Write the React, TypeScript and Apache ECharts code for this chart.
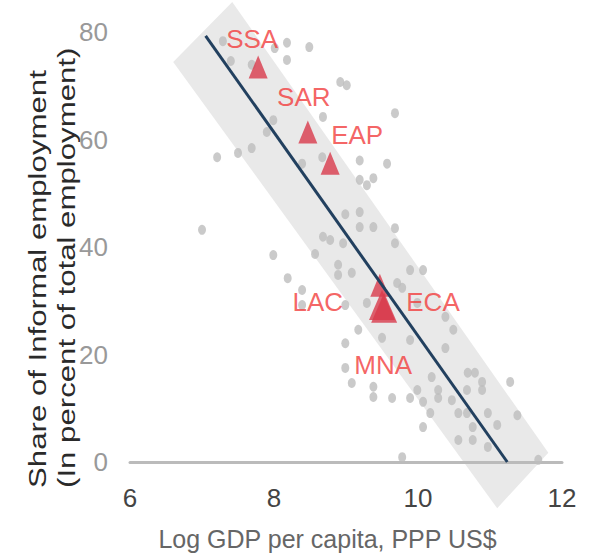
import React, { useEffect, useRef } from "react";
import * as echarts from "echarts";

// Country observations (log GDP per capita, informal employment share)
const dotX = [
  7.29, 8.18, 8.49, 8.01, 8.18, 7.4, 7.69, 8.92, 9.01, 9.68, 8.68, 7.99, 7.9, 7.21, 7.5, 7.69,
  8.67, 9.19, 8.39, 9.57, 9.19, 9.29, 9.38, 8.99, 9.19, 9.19, 9.38, 9.68, 8.68, 8.78, 8.96, 9.68,
  8.57, 7.99, 7.0, 8.19, 8.89, 8.89, 9.08, 9.89, 10.07, 9.71, 9.78, 8.39, 8.39, 8.99, 9.29, 9.99,
  10.38, 9.17, 9.5, 9.89, 10.49, 10.38, 8.99, 8.99, 9.08, 9.38, 9.38, 9.64, 9.89, 9.99, 10.07,
  10.19, 10.28, 10.28, 10.47, 10.68, 10.69, 10.79, 10.89, 10.89, 11.28, 10.17, 10.56, 10.68,
  10.97, 11.38, 11.1, 10.07, 10.76, 10.56, 10.76, 10.97, 9.78, 11.67,
];
const dotY = [
  78.3, 78.0, 77.2, 77.0, 74.8, 74.6, 73.9, 70.7, 70.1, 64.9, 64.2, 63.6, 61.4, 56.7, 57.5, 58.4,
  56.7, 56.1, 55.5, 55.5, 52.5, 51.5, 52.8, 46.1, 46.5, 43.7, 43.7, 43.5, 41.9, 41.3, 40.7, 40.7,
  38.7, 38.5, 43.2, 34.2, 36.7, 34.8, 35.2, 35.7, 35.7, 33.3, 32.4, 32.0, 29.2, 29.2, 29.6, 29.6,
  27.0, 24.6, 23.1, 22.7, 24.6, 21.2, 22.1, 17.5, 14.7, 14.0, 12.1, 11.9, 11.9, 13.4, 11.2,
  15.8, 13.4, 11.9, 11.5, 13.4, 16.6, 16.6, 14.9, 13.4, 14.9, 9.1, 9.1, 9.1,
  9.1, 8.7, 6.9, 6.5, 6.5, 4.1, 4.1, 2.8, 0.9, 0.4,
];

// Regional averages
const regionNames = ["SSA", "SAR", "EAP", "LAC", "ECA", "MNA"];
const regionX = [7.78, 8.47, 8.78, 9.47, 9.5, 9.53];
const regionY = [73.5, 61.4, 55.6, 32.9, 29.2, 28.7];

// Fitted line and its confidence band
const fitX = [7.05, 11.24];
const fitY = [79.3, 0];
const bandX = [6.6, 7.42, 11.81, 11.1];
const bandY = [74.4, 85.6, 1.7, -8.6];

// Axis ranges
const xMin = 6, xMax = 12, xStep = 2;
const yMin = 0, yMax = 80, yStep = 20;

// label placement and marker sizes (styling)
const labelOffsets: Record<string, [number, number]> = {
  SSA: [-6, -28],
  SAR: [-4, -35],
  EAP: [27, -28],
  LAC: [-62, 17],
  ECA: [51, -3],
  MNA: [-1, 57],
};
const markerSizes: Record<string, [number, number]> = {
  SSA: [19, 23],
  SAR: [19, 23],
  EAP: [19, 23],
  LAC: [19, 23],
  ECA: [26, 30],
  MNA: [26, 30],
};

const FONT = "'Liberation Sans', Arial, sans-serif";

export default function App() {
  const ref = useRef<HTMLDivElement>(null);
  useEffect(() => {
    if (!ref.current) return;
    const chart = echarts.init(ref.current, undefined, { renderer: "svg" });
    const option: any = {
      animation: false,
      backgroundColor: "#ffffff",
      grid: { left: 130, right: 28, top: 32, bottom: 98 },
      xAxis: {
        type: "value",
        min: xMin,
        max: xMax,
        interval: xStep,
        z: 1.5,
        axisLine: { show: true, lineStyle: { color: "#bbbbbb", width: 3 } },
        axisTick: { show: false },
        splitLine: { show: false },
        axisLabel: { color: "#444444", fontSize: 26, fontFamily: FONT, margin: 23 },
        name: "Log GDP per capita, PPP US$",
        nameLocation: "middle",
        nameGap: 64,
        nameTextStyle: {
          fontSize: 25,
          color: "#666666",
          fontFamily: FONT,
          padding: [0, 37, 0, 0],
        },
      },
      yAxis: {
        type: "value",
        min: yMin,
        max: yMax,
        interval: yStep,
        axisLine: { show: false },
        axisTick: { show: false },
        splitLine: { show: false },
        axisLabel: { color: "#999999", fontSize: 26, fontFamily: FONT, margin: 22 },
      },
      graphic: [
        {
          type: "text",
          x: 52.5,
          y: 488,
          rotation: Math.PI / 2,
          scaleX: 1.3,
          scaleY: 1,
          silent: true,
          style: {
            text: "Share of Informal employment\n(In percent of total employment)",
            fontSize: 24,
            lineHeight: 29,
            fontFamily: FONT,
            fill: "#2a2a2a",
            align: "left",
            verticalAlign: "middle",
          },
        },
      ],
      series: [
        {
          type: "custom",
          z: 1,
          silent: true,
          clip: false,
          data: [[bandX[0], bandY[0]]],
          renderItem: (_params: any, api: any) => {
            const pts = bandX.map((x, i) => api.coord([x, bandY[i]]));
            return {
              type: "polygon",
              shape: { points: pts },
              style: { fill: "#e9e9e9" },
            };
          },
        },
        {
          type: "scatter",
          z: 2,
          symbol: "circle",
          symbolSize: [8, 10],
          itemStyle: { color: "#bdbdbd" },
          data: dotX.map((x, i) => [x, dotY[i]]),
        },
        {
          type: "scatter",
          z: 3,
          symbol: "triangle",
          itemStyle: { color: "#d83a4b" },
          data: regionNames.map((n, i) => ({
            name: n,
            value: [regionX[i], regionY[i]],
            symbolSize: markerSizes[n],
            label: {
              show: true,
              position: "inside",
              offset: labelOffsets[n],
              formatter: n,
              color: "#f23c3c",
              fontSize: 26,
              fontFamily: FONT,
            },
          })),
        },
        {
          type: "line",
          z: 4,
          symbol: "none",
          lineStyle: { color: "#22405f", width: 3 },
          data: fitX.map((x, i) => [x, fitY[i]]),
        },
      ],
    };
    chart.setOption(option);
    return () => chart.dispose();
  }, []);
  return (
    <div
      ref={ref}
      style={{ position: "fixed", left: 0, top: 0, width: 590, height: 560, background: "#fff" }}
    />
  );
}
